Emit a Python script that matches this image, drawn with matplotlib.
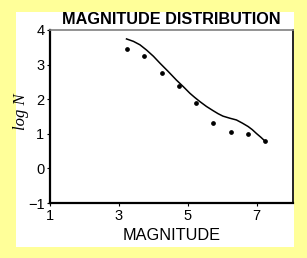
import numpy as np
import matplotlib.pyplot as plt
from matplotlib.patches import Rectangle

# observed points (magnitude, log N)
mag_pts = [3.22, 3.73, 4.24, 4.74, 5.24, 5.73, 6.24, 6.75, 7.25]
logn_pts = [3.44, 3.26, 2.77, 2.38, 1.89, 1.32, 1.06, 0.99, 0.79]

# fitted curve
mag_fit = [3.22, 3.42, 3.61, 3.80, 4.00, 4.19, 4.43, 4.67, 4.87, 5.06,
           5.20, 5.35, 5.54, 5.73, 5.88, 6.02, 6.22, 6.41, 6.58, 6.75,
           6.87, 6.99, 7.12, 7.26]
logn_fit = [3.74, 3.67, 3.57, 3.42, 3.24, 3.04, 2.80, 2.55, 2.36, 2.17,
            2.05, 1.93, 1.79, 1.67, 1.58, 1.51, 1.45, 1.40, 1.31, 1.21,
            1.12, 1.01, 0.90, 0.77]

xticks = [1, 3, 5, 7]
yticks = [-1, 0, 1, 2, 3, 4]

plt.rcParams['font.family'] = ['Liberation Sans', 'DejaVu Sans']

fig = plt.figure(figsize=(3.07, 2.58), dpi=100)
fig.patch.set_facecolor('#ffff99')
# white panel behind the chart
fig.patches.append(Rectangle((0.051, 0.0415), 0.9075, 0.913,
                             transform=fig.transFigure, facecolor='white',
                             edgecolor='none', zorder=-5))

ax = fig.add_axes([0.163, 0.213, 0.79, 0.671])
ax.set_facecolor('white')
ax.set_zorder(2)

ax.plot(mag_fit, logn_fit, color='black', lw=1.1)
ax.plot(mag_pts, logn_pts, 'o', color='black', ms=2.4)

ax.set_xlim(1, 8.04)
ax.set_ylim(-1, 4)
ax.set_xticks(xticks)
ax.set_yticks(yticks)
ax.tick_params(direction='out', length=2.5, width=0.8, labelsize=10.5,
               pad=1.5, colors='black')

for s in ['left', 'bottom']:
    ax.spines[s].set_linewidth(1.6)
ax.spines['right'].set_linewidth(1.2)
ax.spines['top'].set_linewidth(1.2)
ax.spines['top'].set_color('#808080')

ax.set_title('MAGNITUDE DISTRIBUTION', fontsize=11.7, fontweight='bold', pad=4)
ax.set_xlabel('MAGNITUDE', fontsize=11.7, labelpad=4)
ax.set_ylabel('log N', fontsize=12, style='italic',
              family=['Liberation Serif', 'DejaVu Serif'])
ax.yaxis.set_label_coords(-0.085, 0.53)

fig.savefig('out.png', dpi=100, facecolor=fig.get_facecolor())
